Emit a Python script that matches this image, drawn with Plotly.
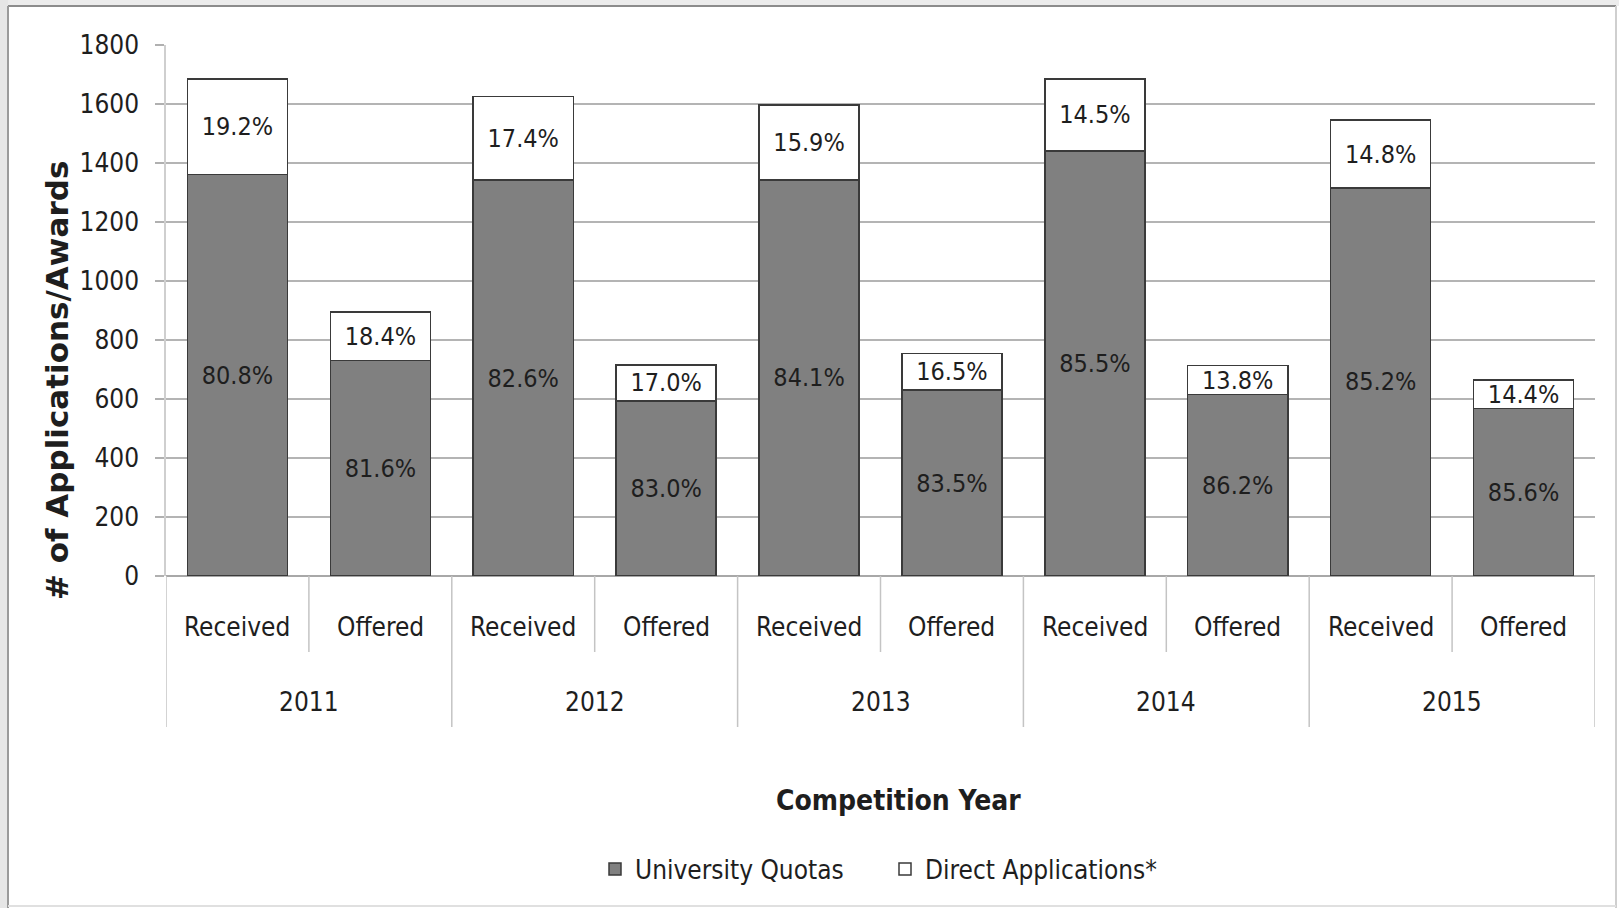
import plotly.graph_objects as go

# ---------------- data ----------------
years = ["2011", "2012", "2013", "2014", "2015"]
kinds = ["Received", "Offered"]
quota_values = [1361, 730, 1342, 594, 1343, 630, 1441, 615, 1316, 568]
direct_values = [324, 165, 283, 122, 254, 125, 244, 98, 229, 96]
quota_labels = ["80.8%", "81.6%", "82.6%", "83.0%", "84.1%", "83.5%", "85.5%", "86.2%", "85.2%", "85.6%"]
direct_labels = ["19.2%", "18.4%", "17.4%", "17.0%", "15.9%", "16.5%", "14.5%", "13.8%", "14.8%", "14.4%"]
y_ticks = [0, 200, 400, 600, 800, 1000, 1200, 1400, 1600, 1800]

# ---------------- geometry helpers ----------------
W, H = 1619, 908
L, R, T, B = 166, 1595, 45, 576


def px_x(px):
    return (px - L) / (R - L)


def px_y(py):
    return (B - py) / (B - T)


FONT = "DejaVu Sans Condensed, Liberation Sans Narrow, sans-serif"
TXT = "#1e1e1e"
SEP = "#c4c4c4"

cats = [(y, k) for y in years for k in kinds]
xpos = list(range(len(cats)))

fig = go.Figure()
fig.add_trace(go.Bar(
    x=xpos, y=quota_values, name="University Quotas",
    marker=dict(color="#808080", line=dict(color="#3a3a3a", width=1.5)),
    text=quota_labels, textposition="inside", insidetextanchor="middle",
    textangle=0, textfont=dict(family=FONT, size=25, color=TXT),
))
fig.add_trace(go.Bar(
    x=xpos, y=direct_values, name="Direct Applications*",
    marker=dict(color="#ffffff", line=dict(color="#3a3a3a", width=1.5)),
    text=direct_labels, textposition="inside", insidetextanchor="middle",
    textangle=0, textfont=dict(family=FONT, size=25, color=TXT),
))

shapes = []
annotations = []

# inner category labels and short separators
for i, (yr, kd) in enumerate(cats):
    annotations.append(dict(
        x=xpos[i], xref="x", y=px_y(627), yref="paper", text=kd,
        showarrow=False, xanchor="center", yanchor="middle",
        font=dict(family=FONT, size=26, color=TXT)))
for i in range(len(years)):
    a, b = xpos[2 * i], xpos[2 * i + 1]
    annotations.append(dict(
        x=(a + b) / 2, xref="x", y=px_y(702), yref="paper", text=years[i],
        showarrow=False, xanchor="center", yanchor="middle",
        font=dict(family=FONT, size=26, color=TXT)))
    shapes.append(dict(type="line", xref="x", yref="paper",
                       x0=(a + b) / 2, x1=(a + b) / 2, y0=0, y1=px_y(652),
                       line=dict(color=SEP, width=1.5)))
    shapes.append(dict(type="line", xref="x", yref="paper",
                       x0=a - 0.5, x1=a - 0.5, y0=0, y1=px_y(727),
                       line=dict(color=SEP, width=1.5)))
shapes.append(dict(type="line", xref="x", yref="paper",
                   x0=xpos[-1] + 0.5, x1=xpos[-1] + 0.5, y0=0, y1=px_y(727),
                   line=dict(color=SEP, width=1.5)))

# axis titles
annotations.append(dict(
    x=px_x(57), xref="paper", y=px_y(381), yref="paper",
    text="<b># of Applications/Awards</b>", textangle=-90, showarrow=False,
    xanchor="center", yanchor="middle",
    font=dict(family="DejaVu Sans, sans-serif", size=31, color=TXT)))
annotations.append(dict(
    x=px_x(898), xref="paper", y=px_y(800), yref="paper",
    text="<b>Competition Year</b>", showarrow=False,
    xanchor="center", yanchor="middle",
    font=dict(family=FONT, size=28, color=TXT)))

# outer frame
shapes += [
    dict(type="rect", xref="paper", yref="paper", x0=px_x(0), x1=px_x(W), y0=px_y(0), y1=px_y(6),
         fillcolor="#ececec", line=dict(width=0), layer="above"),
    dict(type="rect", xref="paper", yref="paper", x0=px_x(0), x1=px_x(8), y0=px_y(0), y1=px_y(H),
         fillcolor="#e6e6e6", line=dict(width=0), layer="above"),
    dict(type="line", xref="paper", yref="paper", x0=px_x(8), x1=px_x(1616), y0=px_y(6), y1=px_y(6),
         line=dict(color="#8c8c8c", width=2), layer="above"),
    dict(type="line", xref="paper", yref="paper", x0=px_x(8), x1=px_x(8), y0=px_y(6), y1=px_y(H),
         line=dict(color="#9a9a9a", width=2), layer="above"),
    dict(type="line", xref="paper", yref="paper", x0=px_x(1616), x1=px_x(1616), y0=px_y(6), y1=px_y(H),
         line=dict(color="#cfcfcf", width=2), layer="above"),
    dict(type="line", xref="paper", yref="paper", x0=px_x(8), x1=px_x(1616), y0=px_y(906), y1=px_y(906),
         line=dict(color="#e0e0e0", width=2), layer="above"),
]

fig.update_layout(
    width=W, height=H,
    margin=dict(l=L, r=W - R, t=T, b=H - B, pad=0),
    paper_bgcolor="white", plot_bgcolor="white",
    barmode="stack", bargap=0.3,
    uniformtext=dict(minsize=25, mode="show"),
    showlegend=True,
    legend=dict(orientation="h", x=px_x(885), xanchor="center", y=px_y(869), yanchor="middle",
                font=dict(family=FONT, size=26, color=TXT), bgcolor="rgba(0,0,0,0)",
                traceorder="normal", itemwidth=30, entrywidth=245),
    xaxis=dict(range=[xpos[0] - 0.5, xpos[-1] + 0.5], showticklabels=False, ticks="",
               showgrid=False, zeroline=False, showline=False, fixedrange=True),
    yaxis=dict(range=[y_ticks[0], y_ticks[-1]], tickvals=y_ticks, ticks="outside", ticklen=9,
               tickcolor="#b0b0b0", tickwidth=1.5, ticklabelstandoff=11,
               showgrid=True, gridcolor="#b4b4b4", gridwidth=1.5,
               zeroline=True, zerolinecolor="#a8a8a8", zerolinewidth=1.5,
               showline=True, linecolor="#cfcfcf", linewidth=1.5,
               tickfont=dict(family=FONT, size=26, color=TXT)),
    shapes=shapes, annotations=annotations,
)

fig.write_html("out.html", config={"displayModeBar": False},
               post_script="document.body.style.margin='0';document.body.style.overflow='hidden';")
